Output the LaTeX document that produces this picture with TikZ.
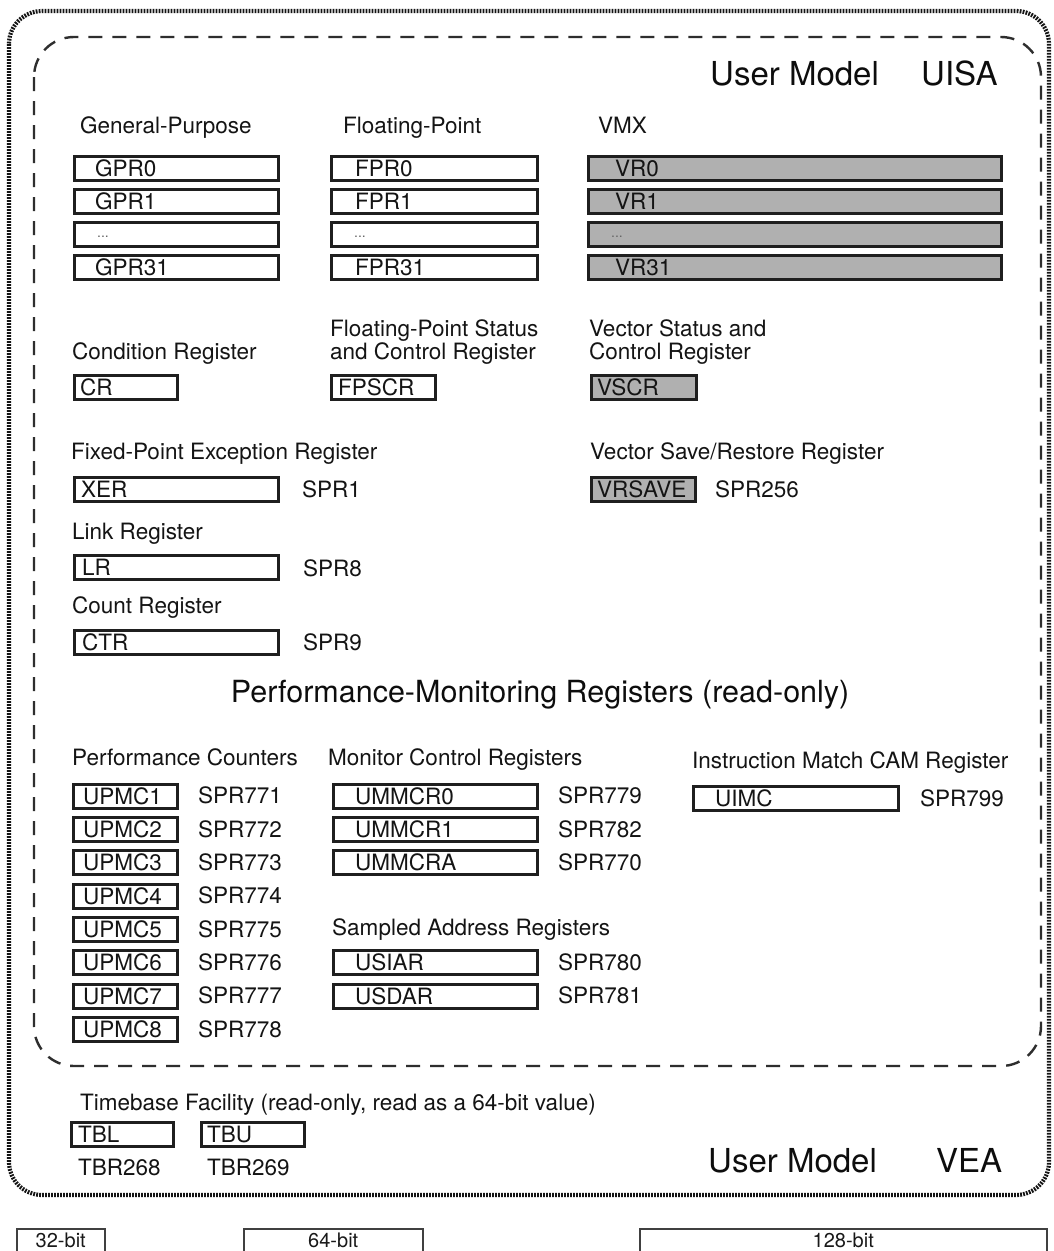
\documentclass[tikz,border=0pt]{standalone}
\usepackage{fontspec}
\setmainfont{TeX Gyre Heros}
\begin{document}
\begin{tikzpicture}[x=1pt,y=-1pt,
  regbox/.style={draw=black!88, line width=2.9pt, minimum height=24pt, inner sep=0pt, anchor=north west, fill=white},
  vbox/.style={regbox, fill=black!31},
  legbox/.style={draw=black!75, line width=1.5pt, minimum height=40pt, inner sep=0pt, anchor=north west},
  txt/.style={anchor=base west, inner sep=0pt, text=black!92, font=\fontsize{22.5}{27}\selectfont},
  ltxt/.style={anchor=base, inner sep=0pt, text=black!90, font=\fontsize{20}{24}\selectfont},
  ttl/.style={anchor=base west, inner sep=0pt, text=black!95, font=\fontsize{33}{39}\selectfont},
  ptl/.style={anchor=base, inner sep=0pt, text=black!95, font=\fontsize{30.5}{36}\selectfont},
  dots/.style={anchor=base west, inner sep=0pt, text=black!60, font=\fontsize{14}{16}\selectfont},
  outerline/.style={draw=black!92, line width=4.2pt, dash pattern=on 1.8pt off 1.2pt},
  innerline/.style={draw=black!82, line width=2.4pt, dash pattern=on 14pt off 10pt}
]
\useasboundingbox (0,0) rectangle (1053,1251);
\clip (0,0) rectangle (1053,1251);
\fill[white] (0,0) rectangle (1053,1251);

% frames
\draw[outerline, rounded corners=33pt] (9,11) rectangle (1049,1195);
\draw[innerline, rounded corners=40pt] (34,37) rectangle (1041,1066);

\newcommand\rg[7]{%
  \node[#6, minimum width=#4pt] (#1) at (#2,#3) {};
  \node[txt] (#1t) at ([xshift=#7pt,yshift=5.4pt]#1.south west) {#5};}
\newcommand\rgd[5]{%
  \node[#5, minimum width=#4pt] (#1) at (#2,#3) {};
  \node[dots] (#1t) at ([xshift=24pt,yshift=10pt]#1.south west) {...};}

% titles
\node[ttl] (uisa1) at (710,85) {User Model};
\node[ttl] (uisa2) at (921,85) {UISA};

% column headers
\node[txt] (hgp) at (80,133) {General-Purpose};
\node[txt] (hfp) at (343,133) {Floating-Point};
\node[txt] (hvmx) at (598,133) {VMX};

\rg{gpr0}{73}{155}{204}{GPR0}{regbox}{22}
\rg{gpr1}{73}{188}{204}{GPR1}{regbox}{22}
\rgd{gprd}{73}{221}{204}{regbox}
\rg{gpr31}{73}{254}{204}{GPR31}{regbox}{22}

\rg{fpr0}{330}{155}{206}{FPR0}{regbox}{25}
\rg{fpr1}{330}{188}{206}{FPR1}{regbox}{25}
\rgd{fprd}{330}{221}{206}{regbox}
\rg{fpr31}{330}{254}{206}{FPR31}{regbox}{25}

\rg{vr0}{587}{155}{413}{VR0}{vbox}{28}
\rg{vr1}{587}{188}{413}{VR1}{vbox}{28}
\rgd{vrd}{587}{221}{413}{vbox}
\rg{vr31}{587}{254}{413}{VR31}{vbox}{28}

% status registers
\node[txt] (hcr) at (72,359) {Condition Register};
\node[txt] (hfs1) at (330,336) {Floating-Point Status};
\node[txt] (hfs2) at (330,359) {and Control Register};
\node[txt] (hvs1) at (589,336) {Vector Status and};
\node[txt] (hvs2) at (589,359) {Control Register};

\rg{cr}{73}{374}{103}{CR}{regbox}{7}
\rg{fpscr}{330}{374}{104}{FPSCR}{regbox}{8}
\rg{vscr}{590}{374}{105}{VSCR}{vbox}{7}

% XER / VRSAVE
\node[txt] (hxer) at (71,459) {Fixed-Point Exception Register};
\rg{xer}{73}{476}{204}{XER}{regbox}{8}
\node[txt] (sxer) at (302,497) {SPR1};
\node[txt] (hvrs) at (590,459) {Vector Save/Restore Register};
\rg{vrsave}{590}{476}{104}{VRSAVE}{vbox}{7}
\node[txt] (svrs) at (715,497) {SPR256};

% LR / CTR
\node[txt] (hlr) at (72,539) {Link Register};
\rg{lr}{73}{554}{204}{LR}{regbox}{9}
\node[txt] (slr) at (303,576) {SPR8};
\node[txt] (hctr) at (72,613) {Count Register};
\rg{ctr}{73}{629}{204}{CTR}{regbox}{9}
\node[txt] (sctr) at (303,650) {SPR9};

% performance monitoring
\node[ptl] (perf) at (540,702) {Performance-Monitoring Registers (read-only)};

\node[txt] (hpc) at (72,765) {Performance Counters};
\foreach \i/\y in {1/783,2/816,3/849,4/883,5/916,6/949,7/983,8/1016}{
  \rg{upmc\i}{72}{\y}{104}{UPMC\i}{regbox}{11}
}
\node[txt] (s771) at (198,803) {SPR771};
\node[txt] (s772) at (198,837) {SPR772};
\node[txt] (s773) at (198,870) {SPR773};
\node[txt] (s774) at (198,903) {SPR774};
\node[txt] (s775) at (198,937) {SPR775};
\node[txt] (s776) at (198,970) {SPR776};
\node[txt] (s777) at (198,1003) {SPR777};
\node[txt] (s778) at (198,1037) {SPR778};

\node[txt] (hmc) at (328,765) {Monitor Control Registers};
\rg{mmcr0}{332}{783}{204}{UMMCR0}{regbox}{23}
\rg{mmcr1}{332}{816}{204}{UMMCR1}{regbox}{23}
\rg{mmcra}{332}{849}{204}{UMMCRA}{regbox}{23}
\node[txt] (s779) at (558,803) {SPR779};
\node[txt] (s782) at (558,837) {SPR782};
\node[txt] (s770) at (558,870) {SPR770};

\node[txt] (hsa) at (332,935) {Sampled Address Registers};
\rg{usiar}{332}{949}{204}{USIAR}{regbox}{23}
\rg{usdar}{332}{983}{204}{USDAR}{regbox}{23}
\node[txt] (s780) at (558,970) {SPR780};
\node[txt] (s781) at (558,1003) {SPR781};

\node[txt] (him) at (692,768) {Instruction Match CAM Register};
\rg{uimc}{692}{785}{205}{UIMC}{regbox}{23}
\node[txt] (s799) at (920,806) {SPR799};

% timebase
\node[txt] (htb) at (80,1110) {Timebase Facility (read-only, read as a 64-bit value)};
\rg{tbl}{70}{1121}{102}{TBL}{regbox}{8}
\rg{tbu}{200}{1121}{103}{TBU}{regbox}{7}
\node[txt] (s268) at (78,1175) {TBR268};
\node[txt] (s269) at (207,1175) {TBR269};

\node[ttl] (vea1) at (708,1172) {User Model};
\node[ttl] (vea2) at (936,1172) {VEA};

% legend
\node[legbox, minimum width=88pt] (l32) at (16,1228) {};
\node[ltxt] at ([yshift=-19pt]l32.north) {32-bit};
\node[legbox, minimum width=179pt] (l64) at (243,1228) {};
\node[ltxt] at ([yshift=-19pt]l64.north) {64-bit};
\node[legbox, minimum width=407pt] (l128) at (639,1228) {};
\node[ltxt] at ([yshift=-19pt]l128.north) {128-bit};
\end{tikzpicture}
\end{document}
